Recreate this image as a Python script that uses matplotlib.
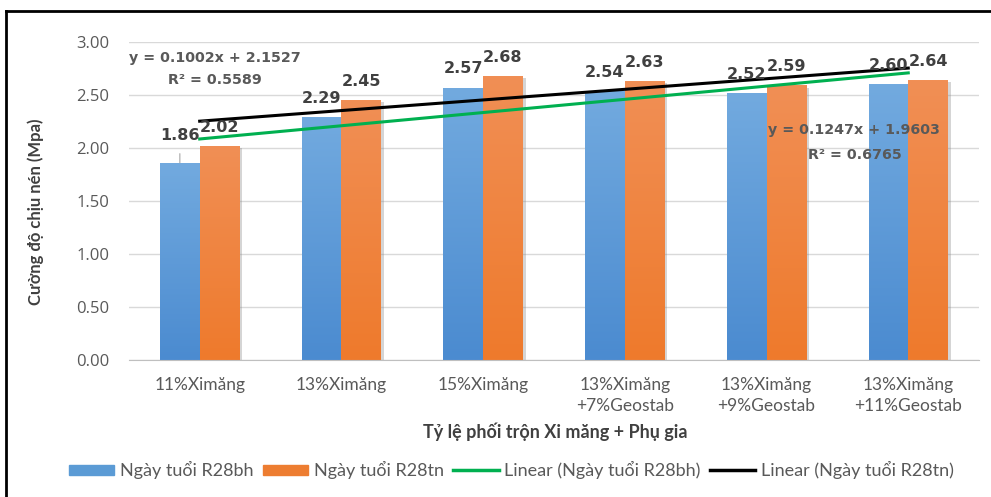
import numpy as np
import matplotlib
matplotlib.use("Agg")
import matplotlib.pyplot as plt
import matplotlib.patheffects as pe
from matplotlib.colors import LinearSegmentedColormap
from matplotlib.lines import Line2D
from matplotlib.patches import Patch

categories = ["11%Ximăng", "13%Ximăng", "15%Ximăng",
              "13%Ximăng\n+7%Geostab", "13%Ximăng\n+9%Geostab", "13%Ximăng\n+11%Geostab"]
r28bh = [1.86, 2.29, 2.57, 2.54, 2.52, 2.60]
r28tn = [2.02, 2.45, 2.68, 2.63, 2.59, 2.64]
# trendline coefficients (slope, intercept, R2), x = 1..6
fit_bh = (0.1247, 1.9603, 0.6765)
fit_tn = (0.1002, 2.1527, 0.5589)

plt.rcParams["font.family"] = ["Lato", "DejaVu Sans"]

fig = plt.figure(figsize=(9.91, 4.97), dpi=100)
ax = fig.add_axes([0.130, 0.2757, 0.858, 0.6398])

x = np.arange(len(categories))
w = 0.28
blue_cm = LinearSegmentedColormap.from_list("b", ["#4b8bd0", "#72aadf"])
orange_cm = LinearSegmentedColormap.from_list("o", ["#ee7a2c", "#f18f55"])
grad = np.linspace(0, 1, 100).reshape(-1, 1)[::-1]

shadow = [pe.SimplePatchShadow(offset=(2, -1.5), shadow_rgbFace="#888888", alpha=0.35), pe.Normal()]
bars_bh = ax.bar(x - w / 2, r28bh, w, color="#5b9bd5", zorder=2, path_effects=shadow)
bars_tn = ax.bar(x + w / 2, r28tn, w, color="#ed7d31", zorder=2, path_effects=shadow)
for bars, cm in ((bars_bh, blue_cm), (bars_tn, orange_cm)):
    for b in bars:
        x0, h = b.get_x(), b.get_height()
        im = ax.imshow(grad, extent=[x0, x0 + b.get_width(), 0, h], aspect="auto",
                       cmap=cm, zorder=2.5, interpolation="bilinear")
        im.set_clip_path(b)

# value labels
lab_kw = dict(textcoords="offset points", ha="center", va="center", fontsize=11.5,
              fontweight="bold", color="#404040", family="DejaVu Sans", zorder=5)
for i, v in enumerate(r28bh):
    if i == 0:
        ax.annotate(f"{v:.2f}", (x[i] - w / 2, v), xytext=(0, 20), **lab_kw,
                    arrowprops=dict(arrowstyle="-", color="#a6a6a6", lw=0.8, shrinkA=6, shrinkB=0))
    else:
        ax.annotate(f"{v:.2f}", (x[i] - w / 2, v), xytext=(0, 13.5), **lab_kw)
for i, v in enumerate(r28tn):
    ax.annotate(f"{v:.2f}", (x[i] + w / 2, v), xytext=(0, 13.5), **lab_kw)

# linear trendlines
xe = np.array([x[0], x[-1]])
ax.plot(xe, fit_bh[0] * (xe + 1) + fit_bh[1], color="#00b050", lw=2.2, zorder=4)
ax.plot(xe, fit_tn[0] * (xe + 1) + fit_tn[1], color="black", lw=2.2, zorder=4)

eq_kw = dict(ha="center", va="center", fontsize=10.3, fontweight="bold",
             color="#595959", family="DejaVu Sans", zorder=6)
ax.text(0.107, 2.85, f"y = {fit_tn[0]:.4f}x + {fit_tn[1]:.4f}", **eq_kw)
ax.text(0.107, 2.64, f"R² = {fit_tn[2]:.4f}", **eq_kw)
ax.text(4.62, 2.17, f"y = {fit_bh[0]:.4f}x + {fit_bh[1]:.4f}", **eq_kw)
ax.text(4.62, 1.93, f"R² = {fit_bh[2]:.4f}", **eq_kw)

ax.set_xlim(-0.5, len(categories) - 0.5)
ax.set_ylim(0, 3.0)
ax.set_yticks(np.arange(0, 3.01, 0.5))
ax.set_yticklabels([f"{t:.2f}" for t in np.arange(0, 3.01, 0.5)],
                   fontsize=12, color="#595959", family=["Open Sans", "DejaVu Sans"])
ax.set_xticks(x)
ax.set_xticklabels(categories, fontsize=12.5, color="#595959", linespacing=1.45)
ax.tick_params(length=0)
ax.tick_params(axis="x", pad=12)
ax.tick_params(axis="y", pad=14)
ax.grid(axis="y", color="#d9d9d9", lw=1, zorder=0)
ax.set_axisbelow(True)
for s in ("top", "right", "left"):
    ax.spines[s].set_visible(False)
ax.spines["bottom"].set_color("#bfbfbf")

fig.text(0.036, 1 - 212 / 497, "Cường độ chịu nén (Mpa)", rotation=90, ha="center",
         va="center", fontsize=12, fontweight="bold", color="#404040")
fig.text(0.56, 1 - 432 / 497, "Tỷ lệ phối trộn Xi măng + Phụ gia", ha="center",
         va="center", fontsize=13, fontweight="bold", color="#404040")

handles = [Patch(color="#5b9bd5"), Patch(color="#ed7d31"),
           Line2D([], [], color="#00b050", lw=2.5), Line2D([], [], color="black", lw=2.5)]
labels = ["Ngày tuổi R28bh", "Ngày tuổi R28tn", "Linear (Ngày tuổi R28bh)", "Linear (Ngày tuổi R28tn)"]
leg = fig.legend(handles, labels, loc="center", bbox_to_anchor=(0.516, 0.054), ncol=4,
                 frameon=False, fontsize=13, handlelength=2.5, handleheight=0.5,
                 handletextpad=0.3, columnspacing=0.55)
for t in leg.get_texts():
    t.set_color("#595959")

# outer frame
fig.add_artist(Line2D([0.006, 0.006], [0, 0.978], color="black", lw=2, transform=fig.transFigure))
fig.add_artist(Line2D([0.006, 1.0], [0.978, 0.978], color="black", lw=2, transform=fig.transFigure))

fig.savefig("out.png", dpi=100)
